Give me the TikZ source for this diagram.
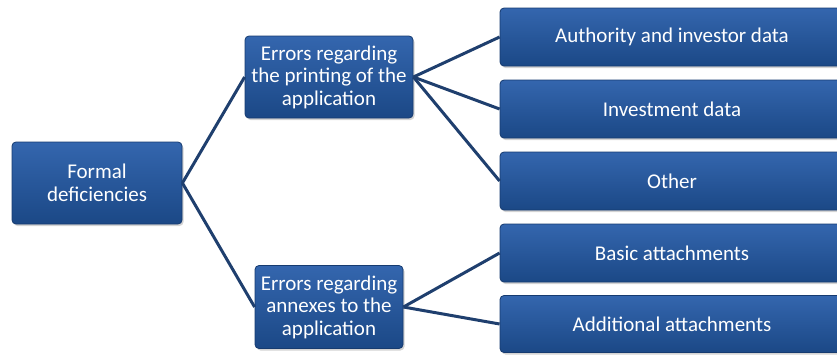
\documentclass[tikz,border=0pt]{standalone}
\usepackage{fontspec}
\setmainfont{Carlito}
\usetikzlibrary{shadows}

\definecolor{boxtop}{HTML}{3466AE}
\definecolor{boxbot}{HTML}{1B4886}
\definecolor{boxedge}{HTML}{163B70}
\definecolor{linkblue}{HTML}{1F3F6E}

\begin{document}
\begin{tikzpicture}[x=1pt,y=-1pt,
    box/.style={rectangle,rounded corners=4pt,draw=boxedge,line width=0.8pt,
      top color=boxtop,bottom color=boxbot,text=white,align=center,
      inner sep=0pt,font=\fontsize{21}{22.5}\selectfont,
      drop shadow={shadow xshift=1.5pt,shadow yshift=-2pt,opacity=0.35}},
    link/.style={draw=linkblue,line width=3pt}]
    \useasboundingbox (0,0) rectangle (837,354);

    \node (root) at (97,183) [box,minimum width=170pt,minimum height=82pt] {Formal\\deficiencies};

    \node (print) at (329,77) [box,minimum width=168pt,minimum height=82pt] {Errors regarding\\the printing of the\\application};
    \node (annex) at (329,307) [box,minimum width=148pt,minimum height=83pt] {Errors regarding\\annexes to the\\application};

    \node (auth) at (672,37) [box,minimum width=344pt,minimum height=58pt] {Authority and investor data};
    \node (inv) at (672,109) [box,minimum width=344pt,minimum height=58pt] {Investment data};
    \node (other) at (672,181) [box,minimum width=344pt,minimum height=58pt] {Other};
    \node (basic) at (672,253) [box,minimum width=344pt,minimum height=58pt] {Basic attachments};
    \node (addit) at (672,324) [box,minimum width=344pt,minimum height=57pt] {Additional attachments};

    \draw[link] (root.east) -- (print.west);
    \draw[link] (root.east) -- (annex.west);
    \draw[link] (print.east) -- (auth.west);
    \draw[link] (print.east) -- (inv.west);
    \draw[link] (print.east) -- (other.west);
    \draw[link] (annex.east) -- (basic.west);
    \draw[link] (annex.east) -- (addit.west);
\end{tikzpicture}
\end{document}
